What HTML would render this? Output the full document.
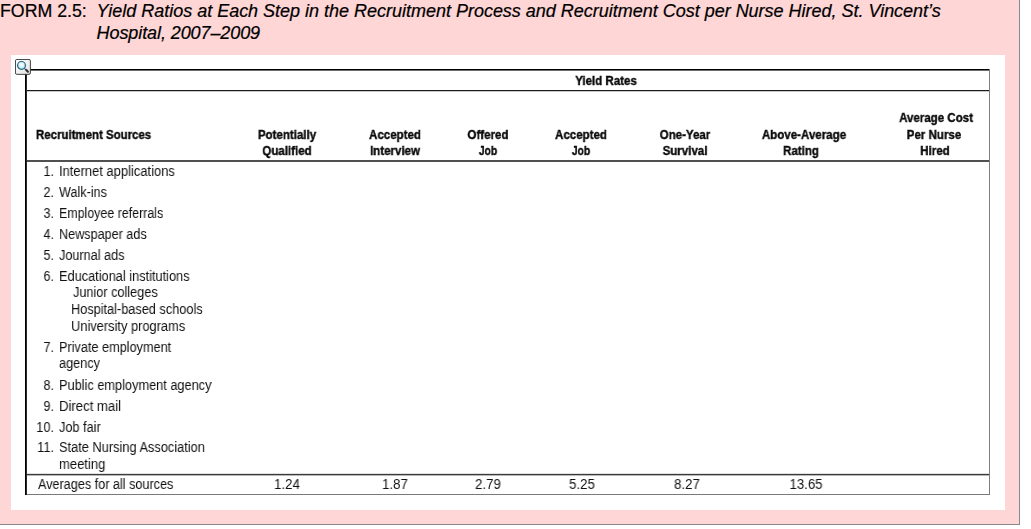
<!DOCTYPE html>
<html><head><meta charset="utf-8"><title>Form 2.5</title>
<style>
html,body{margin:0;padding:0;background:#fff;}
body{width:1031px;height:529px;position:relative;overflow:hidden;font-family:"Liberation Sans",sans-serif;}
#pink{position:absolute;left:0;top:0;width:1019px;height:524px;background:#ffd6d6;border-right:1px solid #8a8a8a;border-bottom:1px solid #8a8a8a;}
#white{position:absolute;left:11px;top:55px;width:994px;height:455px;background:#fff;}
.ttl{position:absolute;white-space:nowrap;font-size:18px;line-height:21.6px;color:#000;-webkit-text-stroke:0.22px #000;}
.ln{position:absolute;background:#000;}
.t{will-change:transform;position:absolute;white-space:nowrap;font-size:13.8px;line-height:15.415px;color:#111;transform-origin:0 50%;transform:scaleX(0.9215);}
.t.b{font-size:13.3px;line-height:14.856px;font-weight:bold;color:#0a0a0a;-webkit-text-stroke:0.4px #0a0a0a;transform:scaleX(0.867);}
.t.r{width:200px;text-align:right;transform-origin:100% 50%;}
.t.c{width:200px;text-align:center;transform-origin:50% 50%;}
#ico{position:absolute;left:15px;top:59px;width:16px;height:16px;}
</style></head><body>
<div id="pink"></div>
<div class="ttl" style="left:0;top:1px;font-size:17.75px;">FORM 2.5:</div>
<div class="ttl" style="left:96.6px;top:1px;font-style:italic;letter-spacing:-0.012px;">Yield Ratios at Each Step in the Recruitment Process and Recruitment Cost per Nurse Hired, St. Vincent&rsquo;s</div>
<div class="ttl" style="left:96.6px;top:22.6px;font-style:italic;letter-spacing:-0.09px;">Hospital, 2007&ndash;2009</div>
<div id="white"></div>
<!-- table rules -->
<div class="ln" style="left:25px;top:69px;width:965px;height:1px;background:#000;"></div>
<div class="ln" style="left:25px;top:70px;width:965px;height:1px;background:#6e6e6e;"></div>
<div class="ln" style="left:25px;top:90px;width:965px;height:1px;background:#1a1a1a;"></div>
<div class="ln" style="left:25px;top:91px;width:965px;height:1px;background:#c8c8c8;"></div>
<div class="ln" style="left:25px;top:160px;width:965px;height:2px;background:#505050;"></div>
<div class="ln" style="left:25px;top:473px;width:965px;height:1px;background:#e0e0e0;"></div>
<div class="ln" style="left:25px;top:474px;width:965px;height:1px;background:#3a3a3a;"></div>
<div class="ln" style="left:25px;top:475px;width:965px;height:1px;background:#b8b8b8;"></div>
<div class="ln" style="left:25px;top:494px;width:965px;height:1px;background:#7a7a7a;"></div>
<div class="ln" style="left:989px;top:69px;width:1px;height:426px;background:#7e7e7e;"></div>
<div class="ln" style="left:25px;top:69px;width:1px;height:426px;background:#000;"></div>
<div class="ln" style="left:26px;top:69px;width:1px;height:426px;background:#2a2a2a;"></div>
<svg id="ico" viewBox="0 0 16 16">
<defs><linearGradient id="g" x1="0" y1="0" x2="1" y2="1"><stop offset="0" stop-color="#ffffff"/><stop offset="0.5" stop-color="#f1f1f1"/><stop offset="1" stop-color="#dedede"/></linearGradient>
<radialGradient id="l" cx="0.5" cy="0.42" r="0.6"><stop offset="0" stop-color="#ffffff"/><stop offset="0.45" stop-color="#dff5fc"/><stop offset="1" stop-color="#a5e2f7"/></radialGradient></defs>
<rect x="0.45" y="0.45" width="14.95" height="14.9" rx="1.4" fill="url(#g)" stroke="#363636" stroke-width="0.95"/>
<circle cx="6.5" cy="6.4" r="3.9" fill="url(#l)" stroke="#27627d" stroke-width="1.2"/>
<line x1="9.4" y1="9.3" x2="11.2" y2="11.1" stroke="#3a4a52" stroke-width="1.1"/>
<line x1="11.3" y1="11.1" x2="12.9" y2="12.7" stroke="#2e2e2e" stroke-width="2.1" stroke-linecap="round"/>
</svg>
<span class="t n r" style="left:-146.20px;top:164.30px;">1.</span>
<span class="t n" style="left:58.60px;top:164.30px;transform:scaleX(0.9380);">Internet applications</span>
<span class="t n r" style="left:-146.20px;top:185.20px;">2.</span>
<span class="t n" style="left:58.60px;top:185.20px;transform:scaleX(0.9140);">Walk-ins</span>
<span class="t n r" style="left:-146.20px;top:206.10px;">3.</span>
<span class="t n" style="left:58.60px;top:206.10px;transform:scaleX(0.9000);">Employee referrals</span>
<span class="t n r" style="left:-146.20px;top:227.00px;">4.</span>
<span class="t n" style="left:58.60px;top:227.00px;transform:scaleX(0.9150);">Newspaper ads</span>
<span class="t n r" style="left:-146.20px;top:247.90px;">5.</span>
<span class="t n" style="left:58.60px;top:247.90px;transform:scaleX(0.9180);">Journal ads</span>
<span class="t n r" style="left:-146.20px;top:268.90px;">6.</span>
<span class="t n" style="left:58.60px;top:268.90px;transform:scaleX(0.9250);">Educational institutions</span>
<span class="t n r" style="left:-146.20px;top:339.60px;">7.</span>
<span class="t n" style="left:58.60px;top:339.60px;transform:scaleX(0.9200);">Private employment</span>
<span class="t n r" style="left:-146.20px;top:377.70px;">8.</span>
<span class="t n" style="left:58.60px;top:377.70px;transform:scaleX(0.9245);">Public employment agency</span>
<span class="t n r" style="left:-146.20px;top:398.60px;">9.</span>
<span class="t n" style="left:58.60px;top:398.60px;transform:scaleX(0.9535);">Direct mail</span>
<span class="t n r" style="left:-146.20px;top:419.50px;">10.</span>
<span class="t n" style="left:58.60px;top:419.50px;transform:scaleX(0.9215);">Job fair</span>
<span class="t n r" style="left:-146.20px;top:440.30px;">11.</span>
<span class="t n" style="left:58.60px;top:440.30px;transform:scaleX(0.9280);">State Nursing Association</span>
<span class="t n" style="left:72.50px;top:285.40px;transform:scaleX(0.9200);">Junior colleges</span>
<span class="t n" style="left:71.40px;top:302.00px;transform:scaleX(0.9230);">Hospital-based schools</span>
<span class="t n" style="left:71.40px;top:318.80px;transform:scaleX(0.9310);">University programs</span>
<span class="t n" style="left:58.60px;top:356.00px;">agency</span>
<span class="t n" style="left:58.60px;top:456.80px;transform:scaleX(0.9430);">meeting</span>
<span class="t n" style="left:37.60px;top:477.20px;transform:scaleX(0.916);">Averages for all sources</span>
<span class="t n c" style="left:187.00px;top:477.20px;transform:scaleX(0.959);">1.24</span>
<span class="t n c" style="left:295.20px;top:477.20px;transform:scaleX(0.959);">1.87</span>
<span class="t n c" style="left:387.70px;top:477.20px;transform:scaleX(0.959);">2.79</span>
<span class="t n c" style="left:481.60px;top:477.20px;transform:scaleX(0.959);">5.25</span>
<span class="t n c" style="left:586.70px;top:477.20px;transform:scaleX(0.959);">8.27</span>
<span class="t n c" style="left:705.60px;top:477.20px;transform:scaleX(0.959);">13.65</span>
<span class="t b" style="left:35.60px;top:127.90px;transform:scaleX(0.861);">Recruitment Sources</span>
<span class="t b c" style="left:187.30px;top:127.90px;">Potentially</span>
<span class="t b c" style="left:186.70px;top:144.40px;">Qualified</span>
<span class="t b c" style="left:294.90px;top:127.90px;">Accepted</span>
<span class="t b c" style="left:294.90px;top:144.40px;">Interview</span>
<span class="t b c" style="left:388.10px;top:127.90px;">Offered</span>
<span class="t b c" style="left:388.10px;top:144.40px;transform:scaleX(0.773);">Job</span>
<span class="t b c" style="left:481.30px;top:127.90px;">Accepted</span>
<span class="t b c" style="left:481.30px;top:144.40px;transform:scaleX(0.773);">Job</span>
<span class="t b c" style="left:585.00px;top:127.90px;">One-Year</span>
<span class="t b c" style="left:585.00px;top:144.40px;">Survival</span>
<span class="t b c" style="left:704.40px;top:127.90px;">Above-Average</span>
<span class="t b c" style="left:700.90px;top:144.40px;">Rating</span>
<span class="t b c" style="left:836.40px;top:111.30px;">Average Cost</span>
<span class="t b c" style="left:833.70px;top:127.90px;">Per Nurse</span>
<span class="t b c" style="left:834.50px;top:144.40px;">Hired</span>
<span class="t b c" style="left:505.80px;top:74.40px;">Yield Rates</span>
</body></html>
